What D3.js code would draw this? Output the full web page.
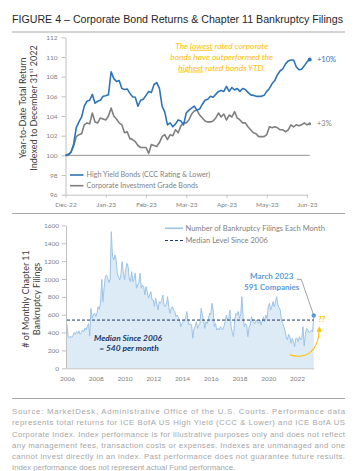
<!DOCTYPE html>
<html><head><meta charset="utf-8">
<script src="https://cdn.jsdelivr.net/npm/d3@7"></script>
<style>body{margin:0;background:#fff}svg{display:block}</style>
</head><body>
<svg id="c" width="355" height="471"></svg>
<script>
// ---------------- DATA ----------------
const topMonths = ["Dec-22","Jan-23","Feb-23","Mar-23","Apr-23","May-23","Jun-23"];
const topStep = 1/15; // months between observations
const highYield = [100.0,100.1,100.3,101.1,102.8,103.4,103.9,105.0,105.5,105.6,
106.2,105.3,105.5,105.6,106.0,106.05,106.15,108.5,107.8,107.5,
107.6,106.8,106.7,106.75,106.3,105.95,105.9,105.0,105.6,105.7,
106.1,106.5,106.4,107.2,107.4,106.8,105.0,104.4,103.1,103.3,
102.9,103.2,103.6,103.5,103.1,104.3,104.6,104.8,105.0,104.6,
104.7,105.2,105.6,105.7,106.0,105.9,106.2,106.5,106.6,106.5,
107.0,106.5,106.9,106.65,106.8,106.5,106.8,106.7,106.4,106.15,
106.1,106.0,106.0,106.0,106.1,106.5,106.8,107.3,107.6,108.2,
108.6,108.8,109.3,109.6,109.7,109.7,109.0,108.7,108.75,109.1,
109.5,109.75];
const investGrade = [100.0,100.0,100.3,100.9,101.9,102.1,102.2,103.1,103.3,103.2,
104.3,103.4,103.3,103.8,103.7,103.6,104.0,104.8,104.0,103.7,
103.3,103.1,102.3,102.4,101.7,101.6,101.4,101.0,100.8,100.8,
100.8,100.2,101.1,101.0,100.9,101.3,101.9,102.1,101.6,102.1,
102.0,102.6,102.3,103.0,103.3,103.3,103.6,104.2,104.5,104.6,
104.1,103.8,103.5,103.4,103.4,103.5,103.8,104.3,103.9,104.2,
103.6,104.1,103.9,104.45,103.8,103.6,103.3,103.3,102.9,102.6,
102.3,102.2,101.9,101.9,101.9,102.1,102.9,102.8,102.9,102.8,
102.6,102.6,102.4,102.6,103.1,102.9,103.1,103.0,103.1,103.3,
103.1,103.2];
const topYTicks = [96,98,100,102,104,106,108,110,112];

const filingsStartYear = 2006;
const filings = [
490,350,340,360,345,370,400,380,410,390,420,380,
400,430,410,450,430,470,500,360,670,560,600,620,
580,616,690,660,728,996,746,900,1026,1045,1008,960,
1000,1530,1250,1212,1269,1212,1064,1020,990,1050,1194,1080,
990,1100,1175,1138,1000,971,1082,971,1000,1064,896,933,
960,1064,896,930,915,821,915,860,784,821,858,765,
765,690,784,720,653,746,728,760,821,709,690,720,
802,680,616,672,690,650,635,578,597,570,541,466,
500,522,541,560,635,541,485,500,485,336,440,466,
522,447,480,504,672,600,541,447,522,500,541,616,
600,728,653,466,500,429,447,429,466,450,429,470,
522,597,541,560,653,466,400,354,541,616,600,635,
560,600,802,578,466,500,485,354,460,485,578,522,
510,504,541,520,504,541,485,530,578,522,597,560,
690,728,653,690,746,690,740,802,709,680,653,541,
504,466,420,354,317,380,354,280,336,300,242,336,
336,298,354,317,340,466,250,380,447,429,400,410,
429,410,591];
const medianFilings = 540;
const yearTicks = [2006,2008,2010,2012,2014,2016,2018,2020,2022];
const botYTicks = [0,200,400,600,800,1000,1200,1400,1600];

const sourceLines = [
"Source: MarketDesk, Administrative Office of the U.S. Courts. Performance data",
"represents total returns for ICE BofA US High Yield (CCC & Lower) and ICE BofA US",
"Corporate Index. Index performance is for illustrative purposes only and does not reflect",
"any management fees, transaction costs or expenses. Indexes are unmanaged and one",
"cannot invest directly in an index. Past performance does not guarantee future results.",
"Index performance does not represent actual Fund performance."];

// ---------------- STYLE ----------------
const svg = d3.select("#c");
const cal = "Lato, 'Open Sans', sans-serif";
const ari = "'Liberation Sans', Arial, sans-serif";
const BLUE = "#2E75B6", GRAY = "#7F7F7F", GOLD = "#FFC000", NAVY = "#1F3864",
      LBLUE = "#9DC3E6", FILL = "#DDEBF7", AXC = "#BFBFBF", LBL = "#7F7F7F";

// Title
svg.append("text").attr("x",12).attr("y",23).attr("font-family",ari).attr("font-size",10)
  .attr("fill","#262626").attr("textLength",331).attr("lengthAdjust","spacingAndGlyphs")
  .text("FIGURE 4 – Corporate Bond Returns & Chapter 11 Bankruptcy Filings");
[32,213.5,398.5].forEach(y=>svg.append("line").attr("x1",12).attr("x2",345).attr("y1",y).attr("y2",y)
  .attr("stroke","#A6A6A6").attr("stroke-width",1));

function styleAxis(g){
  g.select(".domain").attr("stroke",AXC);
  g.selectAll(".tick line").attr("stroke",AXC);
  g.selectAll(".tick text").attr("fill",LBL).attr("font-family",cal).attr("font-size",6.5);
}

// ---------------- TOP CHART ----------------
const xT = d3.scaleLinear().domain([0,6]).range([65.5,307]);
const yT = d3.scaleLinear().domain([96,112]).range([194.7,37.3]);

svg.append("g").attr("transform","translate(65.5,0)")
  .call(d3.axisLeft(yT).tickValues(topYTicks).tickSize(4).tickPadding(4).tickSizeOuter(0))
  .call(styleAxis);
svg.append("g").attr("transform",`translate(0,${yT(96)})`)
  .call(d3.axisBottom(xT).tickValues(d3.range(0,7)).tickFormat(i=>topMonths[i]).tickSize(3).tickPadding(5).tickSizeOuter(0))
  .call(styleAxis);

const lastM = (highYield.length-1)*topStep;
svg.append("line").attr("x1",xT(0)).attr("x2",xT(lastM)).attr("y1",yT(100)).attr("y2",yT(100))
  .attr("stroke","#A6A6A6").attr("stroke-width",1.2);

const lineT = d3.line().x((d,i)=>xT(i*topStep)).y(d=>yT(d));
svg.append("path").datum(investGrade).attr("d",lineT).attr("fill","none").attr("stroke",GRAY).attr("stroke-width",1.6).attr("stroke-linejoin","round");
svg.append("path").datum(highYield).attr("d",lineT).attr("fill","none").attr("stroke",BLUE).attr("stroke-width",1.6).attr("stroke-linejoin","round");
svg.append("circle").attr("cx",xT(lastM)).attr("cy",yT(highYield[highYield.length-1])).attr("r",2).attr("fill",BLUE);
svg.append("circle").attr("cx",xT(lastM)).attr("cy",yT(investGrade[investGrade.length-1])).attr("r",1.5).attr("fill",GRAY);

svg.append("text").attr("x",317).attr("y",yT(highYield[highYield.length-1])+2.5).attr("font-family",cal).attr("font-size",7.5).attr("fill",BLUE).text("+10%");
svg.append("text").attr("x",317).attr("y",yT(investGrade[investGrade.length-1])+2.5).attr("font-family",cal).attr("font-size",7.5).attr("fill",GRAY).text("+3%");

// annotation
const ann = svg.append("text").attr("font-family",cal).attr("font-size",8.4).attr("font-style","italic").attr("fill",GOLD).attr("text-anchor","middle");
const a1 = ann.append("tspan").attr("x",221.7).attr("y",48.8); a1.append("tspan").text("The ");
a1.append("tspan").style("text-decoration","underline").text("lowest"); a1.append("tspan").text(" rated corporate");
ann.append("tspan").attr("x",221.7).attr("y",59.7).text("bonds have outperformed the");
const a3 = ann.append("tspan").attr("x",221.7).attr("y",70.6);
a3.append("tspan").style("text-decoration","underline").text("highest"); a3.append("tspan").text(" rated bonds YTD.");

// legend
[[BLUE,"High Yield Bonds (CCC Rating & Lower)",175],[GRAY,"Corporate Investment Grade Bonds",185.7]].forEach(([c,t,y])=>{
  svg.append("line").attr("x1",70).attr("x2",83.5).attr("y1",y).attr("y2",y).attr("stroke",c).attr("stroke-width",1.6);
  svg.append("text").attr("x",86.5).attr("y",y+2.4).attr("font-family",cal).attr("font-size",7.2).attr("fill",LBL).text(t);
});

// y title
const yt = svg.append("text").attr("transform","translate(26,108) rotate(-90)").attr("text-anchor","middle")
  .attr("font-family",cal).attr("font-size",9).attr("fill","#404040");
yt.append("tspan").attr("x",0).attr("y",0).text("Year-to-Date Total Return");
const yt2 = yt.append("tspan").attr("x",0).attr("y",10.8);
yt2.append("tspan").text("Indexed to December 31");
yt2.append("tspan").attr("font-size",5.5).attr("dy",-3.5).text("st");
yt2.append("tspan").attr("dy",3.5).text(" 2022");

// ---------------- BOTTOM CHART ----------------
const xB = d3.scaleLinear().domain([2006,2022]).range([67,297]);
const yB = d3.scaleLinear().domain([0,1600]).range([368.3,225.4]);
const tOf = i => filingsStartYear + i/12;
const lastI = filings.length-1;

const area = d3.area().x((d,i)=>xB(tOf(i))).y0(yB(0)).y1(d=>yB(d));
const lineB = d3.line().x((d,i)=>xB(tOf(i))).y(d=>yB(d));
svg.append("path").datum(filings).attr("d",area).attr("fill",FILL);
svg.append("path").datum(filings).attr("d",lineB).attr("fill","none").attr("stroke",LBLUE).attr("stroke-width",1).attr("stroke-linejoin","round");

svg.append("g").attr("transform","translate(66,0)")
  .call(d3.axisLeft(yB).tickValues(botYTicks).tickFormat(d3.format("d")).tickSize(4).tickPadding(3).tickSizeOuter(0))
  .call(styleAxis);
const xBaxis = d3.scaleLinear().domain([xB.invert(66), tOf(lastI)]).range([66, xB(tOf(lastI))]);
svg.append("g").attr("transform",`translate(0,${yB(0)})`)
  .call(d3.axisBottom(xBaxis).tickValues(yearTicks).tickFormat(d3.format("d")).tickSize(0).tickPadding(8).tickSizeOuter(0))
  .call(styleAxis);

svg.append("line").attr("x1",xB(2006)).attr("x2",xB(tOf(lastI))).attr("y1",yB(medianFilings)).attr("y2",yB(medianFilings))
  .attr("stroke",NAVY).attr("stroke-width",1).attr("stroke-dasharray","3,2");

// legend bottom
svg.append("line").attr("x1",165).attr("x2",183).attr("y1",228.3).attr("y2",228.3).attr("stroke",LBLUE).attr("stroke-width",1.6);
svg.append("text").attr("x",185.5).attr("y",230.8).attr("font-family",cal).attr("font-size",7.5).attr("fill",LBL).text("Number of Bankruptcy Filings Each Month");
svg.append("line").attr("x1",165).attr("x2",183).attr("y1",240.5).attr("y2",240.5).attr("stroke",NAVY).attr("stroke-width",1).attr("stroke-dasharray","3,2");
svg.append("text").attr("x",185.5).attr("y",243).attr("font-family",cal).attr("font-size",7.5).attr("fill",LBL).text("Median Level Since 2006");

// median annotation
const mt = svg.append("text").attr("font-family",cal).attr("font-size",8.4).attr("font-weight","bold").attr("font-style","italic").attr("fill",NAVY).attr("text-anchor","middle");
mt.append("tspan").attr("x",128).attr("y",340.5).text("Median Since 2006");
mt.append("tspan").attr("x",129).attr("y",351.3).text("=  540 per month");

// March 2023 annotation
const lx = xB(tOf(lastI)), ly = yB(filings[lastI]);
svg.append("path").attr("d",`M${lx-17},${279.3} L${lx-12.5},${279.3} L${lx},${ly}`).attr("fill","none").attr("stroke","#8C8C8C").attr("stroke-width",0.8);
svg.append("circle").attr("cx",lx).attr("cy",ly).attr("r",2.2).attr("fill","#5B9BD5");
const mc = svg.append("text").attr("font-family",cal).attr("font-size",8).attr("font-weight","bold").attr("fill","#5B9BD5").attr("text-anchor","middle");
mc.append("tspan").attr("x",271.7).attr("y",278.8).text("March 2023");
mc.append("tspan").attr("x",271.7).attr("y",289.8).text("591 Companies");

svg.append("text").attr("x",lx+4.5).attr("y",ly+6.5).attr("font-family",cal).attr("font-size",8).attr("font-weight","bold").attr("font-style","italic").attr("fill",GOLD).text("??");

// curved arrow
svg.append("defs").append("marker").attr("id","ah").attr("viewBox","0 0 10 10").attr("refX",5).attr("refY",5)
  .attr("markerWidth",5).attr("markerHeight",5).attr("orient","auto")
  .append("path").attr("d","M0,0 L10,5 L0,10 z").attr("fill",GOLD);
const p = d3.path();
p.moveTo(xB(2021.5), yB(150));
p.bezierCurveTo(xB(2022.6), yB(100), xB(2023.5), yB(180), xB(2023.55), yB(440));
svg.append("path").attr("d",p.toString()).attr("fill","none").attr("stroke",GOLD).attr("stroke-width",1.1).attr("marker-end","url(#ah)");

// bottom y title
const bt = svg.append("text").attr("transform","translate(28.5,299) rotate(-90)").attr("text-anchor","middle")
  .attr("font-family",cal).attr("font-size",9).attr("fill","#404040");
bt.append("tspan").attr("x",0).attr("y",0).text("# of Monthly Chapter 11");
bt.append("tspan").attr("x",0).attr("y",11.2).text("Bankruptcy Filings");

// ---------------- SOURCE ----------------
sourceLines.forEach((t,i)=>{
  const tx = svg.append("text").attr("x",12).attr("y",414.3+i*11.1).attr("font-family",ari).attr("font-size",7.8).attr("fill","#A6A6A6").text(t);
  if(i<sourceLines.length-1) tx.attr("textLength",333).attr("lengthAdjust","spacing");
});
</script>
</body></html>
